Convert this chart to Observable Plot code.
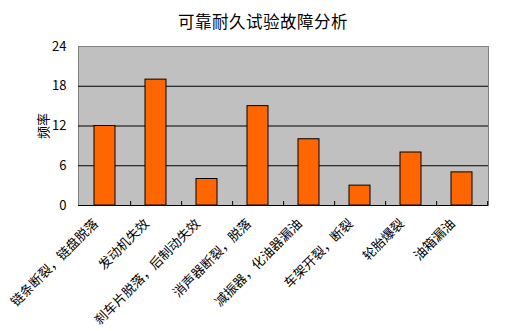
<!DOCTYPE html>
<html><head><meta charset="utf-8">
<script src="https://cdn.jsdelivr.net/npm/d3@7"></script>
<script src="https://cdn.jsdelivr.net/npm/@observablehq/plot@0.6"></script>
<style>
body{margin:0;background:#fff;font-family:"Noto Sans CJK SC",sans-serif;}
#title{height:30px;line-height:42px;text-align:center;font-size:16.5px;color:#000;width:515px;padding-left:11px;box-sizing:border-box;letter-spacing:0.5px;}
</style></head>
<body>
<div id="title">可靠耐久试验故障分析</div>
<div id="chart"></div>
<script>
const categories = ["链条断裂，链盘脱落","发动机失效","刹车片脱落，后制动失效","消声器断裂，脱落","减振器，化油器漏油","车架开裂，断裂","轮胎爆裂","油箱漏油"];
const values = [12,19,4,15,10,3,8,5];
const yTicks = [0,6,12,18,24];
const data = categories.map((c,i)=>({c, v: values[i]}));
const W = 515, H = 301, mL = 78, mR = 27;
const step = (W - mL - mR) / categories.length;
const chart = Plot.plot({
  width: W, height: H,
  marginTop: 16, marginBottom: 126, marginLeft: mL, marginRight: mR,
  style: {fontFamily: '"Noto Sans CJK SC", sans-serif', fontSize: "12px", color: "#000", background: "#fff", overflow: "visible"},
  x: {domain: categories, paddingInner: 0.59, paddingOuter: 0.295, align: 0.5},
  y: {domain: [0,24], ticks: yTicks},
  marks: [
    Plot.frame({fill: "#c0c0c0", stroke: "#808080"}),
    Plot.ruleY(yTicks.filter(t=>t>0 && t<24), {stroke: "#000", strokeWidth: 1}),
    Plot.barY(data, {x: "c", y: "v", fill: "#ff6600", stroke: "#000", strokeWidth: 1}),
    Plot.ruleX(categories, {x: d=>d, y1: 0, y2: 0.6, dx: step/2, stroke: "#000"}),
    Plot.ruleY([0], {stroke: "#000"}),
    Plot.axisY({ticks: yTicks, tickSize: 0, tickPadding: 12, label: "频率", labelAnchor: "center", labelArrow: "none", labelOffset: 40, fontSize: 13}),
    Plot.axisX({tickSize: 0, tickRotate: -45, tickPadding: 16, dx: -9, label: null, fontSize: 13, textAnchor: "end"})
  ]
});
document.getElementById("chart").appendChild(chart);
</script>
</body></html>
